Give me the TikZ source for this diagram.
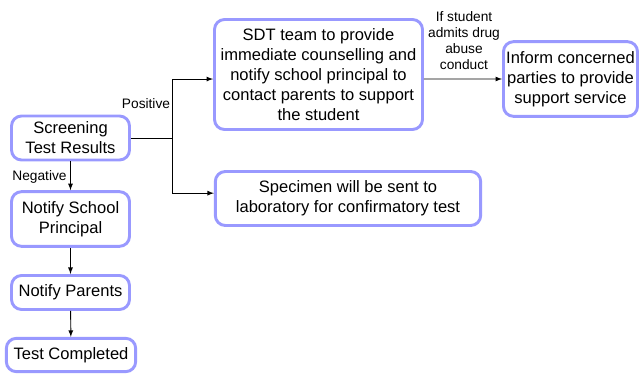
\documentclass[tikz,border=0pt]{standalone}
\usepackage{fontspec}
\setmainfont{Liberation Sans}
\usetikzlibrary{arrows,positioning}
\definecolor{boxblue}{RGB}{153,153,255}

\begin{document}
\begin{tikzpicture}[x=0.75pt,y=-0.75pt,>=latex,
  box/.style={draw=boxblue,line width=2.2pt,rounded corners=7.5pt,fill=white,align=center,inner sep=1pt,font=\fontsize{12.4}{15}\selectfont},
  lbl/.style={font=\fontsize{10.3}{12}\selectfont,align=center,inner sep=0pt},
  con/.style={line width=0.7pt}]
                      \useasboundingbox (0,0) rectangle (640,374);

                      \node[box,minimum width=88.5pt,minimum height=33pt] (a1) at (70.5,138) {Screening\\Test Results};
                      \node[box,minimum width=88.5pt,minimum height=41pt] (a2) at (70.5,219) {Notify School\\Principal};
                      \node[box,minimum width=88.5pt,minimum height=25.5pt] (a3) at (70.5,292.5) {Notify Parents};
                      \node[box,minimum width=97pt,minimum height=25pt] (a4) at (71,355) {Test Completed};

                      \node[box,minimum width=156pt,minimum height=82.5pt] (b1) at (318.5,74.5) {SDT team to provide\\immediate counselling and\\notify school principal to\\contact parents to support\\the student};
                      \node[box,minimum width=100.5pt,minimum height=56pt] (b2) at (570.5,79) {Inform concerned\\parties to provide\\support service};
                      \node[box,minimum width=199pt,minimum height=40.5pt] (c1) at (348,198.5) {Specimen will be sent to\\laboratory for confirmatory test};

                      \coordinate (s1) at (172,138);

                      \draw[con] (a1.east) -- (s1);
                      \draw[->,con] (s1) |- ([yshift=-3.4pt]b1.west);
                      \draw[->,con] (s1) |- ([yshift=4pt]c1.west);
                      \draw[->,con] ([yshift=-3.4pt]b1.east) -- (b2.west);
                      \draw[->,con] (a1) -- (a2);
                      \draw[->,con] (a2) -- (a3);
                      \draw[->,con] (a3) -- (a4);

                      \node[lbl] (l1) at (146,104) {Positive};
                      \node[lbl] (l2) at (39.5,177) {Negative};
                      \node[lbl] (l3) at (464,41) {If student\\admits drug\\abuse\\conduct};
                    \end{tikzpicture}
\end{document}
